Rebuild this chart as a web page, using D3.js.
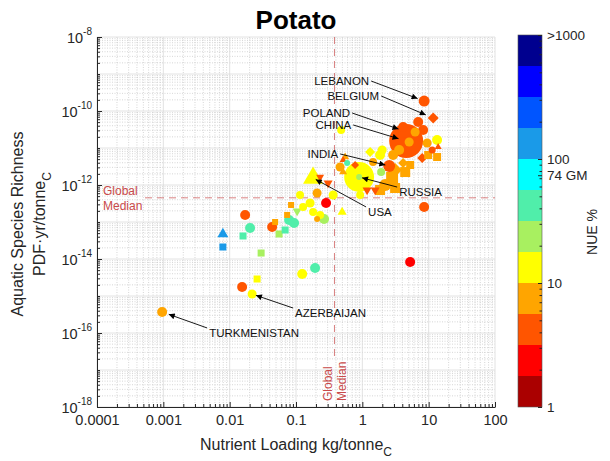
<!DOCTYPE html>
<html>
<head>
<meta charset="utf-8">
<script src="https://cdn.jsdelivr.net/npm/d3@7"></script>
<style>
  body { margin: 0; background: #fff; }
  text { font-family: "Liberation Sans", Arial, Helvetica, sans-serif; }
</style>
</head>
<body>
<svg id="chart" width="610" height="461"></svg>
<script>
// ---- Potato: nutrient loading vs. aquatic species richness loss, coloured by NUE ----

// Nutrient loading, kg / tonne C
const loading = [
  0.00096, 0.0218, 0.0154, 0.0259, 0.124, 0.194, 5.26, 0.0079, 0.0079, 0.0171,
  0.0203, 0.0159, 0.0298, 0.0437, 0.0484, 0.0556, 0.0686, 0.0787, 0.0935, 0.0735,
  0.0843, 0.104, 0.284, 0.265, 0.479, 8.55, 8.55, 11.7, 4.58, 4.27,
  2.54, 0.895, 0.895, 0.181, 6.95, 8.26, 4.12, 6.25, 9.49, 13.4,
  13.9, 5.08, 3.59, 7.98, 9.82, 13.4, 11.3, 4.12, 5.26, 2.91,
  1.31, 1.85, 1.45, 1.99, 3.12, 4.43, 2.81, 2.21, 1.85, 3.12,
  0.462, 0.590, 0.513, 1.92, 0.513, 1.18, 1.56, 0.926, 0.231, 0.305,
  0.208, 0.163, 0.181, 0.231, 0.496, 0.128, 0.208, 0.551, 0.778, 0.363,
  0.115
];

// Aquatic species richness, PDF·yr / tonne C
const richness = [
  3.7e-16, 1.13e-15, 1.75e-15, 2.88e-15, 3.93e-15, 5.71e-15, 8.3e-15, 4.74e-14, 2.11e-14, 1.55e-13,
  6.89e-14, 4.19e-14, 1.45e-14, 7.33e-14, 1.0e-13, 4.74e-14, 6.08e-14, 1.13e-13, 9.4e-14, 1.55e-13,
  2.88e-13, 1.98e-13, 3.27e-13, 1.21e-13, 3.06e-11, 2.54e-13, 1.86e-10, 6.47e-11, 1.55e-11, 2.88e-11,
  3.27e-12, 1.64e-12, 1.64e-12, 1.55e-12, 5.04e-11, 3.06e-11, 3.70e-11, 2.71e-11, 1.36e-11, 1.64e-11,
  1.06e-11, 1.45e-11, 8.83e-12, 5.37e-12, 6.47e-12, 5.71e-12, 8.83e-12, 3.93e-12, 3.47e-12, 6.47e-12,
  7.80e-12, 6.47e-12, 4.19e-12, 8.83e-12, 2.54e-12, 2.24e-12, 1.55e-12, 1.0e-12, 7.33e-13, 8.3e-13,
  3.07e-12, 3.93e-12, 4.74e-12, 2.24e-12, 2.24e-12, 7.33e-13, 7.33e-13, 5.37e-13, 1.64e-12, 1.13e-12,
  6.08e-13, 3.27e-13, 1.86e-13, 1.55e-13, 1.86e-13, 2.54e-13, 1.21e-13, 5.71e-12, 3.47e-12, 5.37e-13,
  5.37e-13
];

// Nitrogen use efficiency, %
const nue = [
  7.5, 13, 4.2, 13, 13, 42, 2.4, 133, 133, 4.2,
  42, 42, 24, 4.2, 7.5, 24, 42, 42, 42, 7.5,
  7.5, 24, 2.4, 24, 13, 4.2, 4.2, 4.2, 4.2, 4.2,
  4.2, 13, 24, 13, 4.2, 4.2, 4.2, 7.5, 7.5, 13,
  4.2, 7.5, 7.5, 4.2, 7.5, 7.5, 4.2, 7.5, 7.5, 7.5,
  13, 13, 7.5, 13, 7.5, 7.5, 7.5, 7.5, 7.5, 7.5,
  7.5, 42, 4.2, 24, 7.5, 4.2, 4.2, 13, 4.2, 4.2,
  7.5, 13, 13, 13, 13, 13, 7.5, 7.5, 4.2, 13,
  13
];

// Production system marker: c circle, s square, t triangle, v inverted triangle, d diamond
const marker = [
  "c","c","c","s","c","c","c","t","s","c",
  "c","s","s","c","s","s","s","c","c","s",
  "s","v","c","c","c","c","c","d","c","c",
  "c","c","c","t","c","c","c","c","c","c",
  "t","c","c","d","s","s","c","d","s","c",
  "d","c","c","c","d","s","s","c","s","s",
  "c","c","t","c","t","v","v","c","v","v",
  "c","c","c","c","t","c","c","t","d","c",
  "c"
];

// Production, Mt (sets marker size)
const production = [
  7.7, 6.3, 7.7, 3.8, 7.7, 7.7, 7.7, 9.3, 3.8, 7.7,
  7.7, 3.8, 3.8, 7.7, 2.8, 3.8, 3.8, 7.7, 7.7, 2.8,
  2.8, 6.3, 7.7, 7.7, 4.9, 7.7, 9.3, 9.3, 89, 15,
  11, 69, 2.8, 31, 7.7, 7.7, 7.7, 6.3, 6.3, 7.7,
  3.8, 6.3, 7.7, 7.7, 4.9, 4.9, 3.8, 7.7, 4.9, 7.7,
  7.7, 7.7, 4.9, 6.3, 15, 7.7, 11, 11, 7.7, 7.7,
  6.3, 2.8, 3.8, 4.9, 4.9, 6.3, 6.3, 4.9, 4.9, 6.3,
  6.3, 6.3, 4.9, 4.9, 6.3, 4.9, 2.8, 4.9, 4.9, 6.3,
  4.9
];

// Country names for the labelled points
const country = [];
country[0] = "TURKMENISTAN"; country[1] = "AZERBAIJAN"; country[26] = "LEBANON";
country[27] = "BELGIUM"; country[28] = "CHINA"; country[29] = "POLAND";
country[30] = "INDIA"; country[31] = "RUSSIA"; country[33] = "USA";

const xTickValues = [1e-4, 1e-3, 1e-2, 1e-1, 1, 10, 100];
const xTickLabels = ["0.0001", "0.001", "0.01", "0.1", "1", "10", "100"];
const yTickValues = [1e-8, 1e-10, 1e-12, 1e-14, 1e-16, 1e-18];
const yTickExponents = ["-8", "-10", "-12", "-14", "-16", "-18"];

const medianLoading = 0.38;
const medianRichness = 4.5e-13;

// NUE colour bands, lowest to highest (4 bands per decade, 1 – 1000 %)
const nueBandColors = [
  "#aa0000", "#ff0000", "#ff5500", "#ffa500", "#ffff00", "#a8f060",
  "#50eeaa", "#00ffff", "#1a9ae8", "#0055ff", "#0000ff", "#00008f"
];
const nueTickValues = [1, 10, 74, 100, 1000];
const nueTickLabels = ["1", "10", "74 GM", "100", ">1000"];

// Callout label placement relative to its point (pixels)
const callouts = [
  { name: "LEBANON",      dx: -55, dy: -16, anchor: "end",   gap: 7 },
  { name: "BELGIUM",      dx: -54, dy: -18, anchor: "end",   gap: 8 },
  { name: "POLAND",       dx: -54, dy: -14, anchor: "end",   gap: 6 },
  { name: "CHINA",        dx: -55, dy: -12, anchor: "end",   gap: 8 },
  { name: "INDIA",        dx: -51, dy: -8,  anchor: "end",   gap: 4 },
  { name: "RUSSIA",       dx: 40,  dy: 19,  anchor: "start", gap: 3 },
  { name: "USA",          dx: 55,  dy: 38,  anchor: "start", gap: 3 },
  { name: "AZERBAIJAN",   dx: 43,  dy: 23,  anchor: "start", gap: 4 },
  { name: "TURKMENISTAN", dx: 47,  dy: 25,  anchor: "start", gap: 7 }
];

// ---------------------------------------------------------------
const svg = d3.select("#chart");
const L = 97, R = 495, T = 37, B = 407;
const axisColor = "#262626";

const x = d3.scaleLog().domain([1e-4, 100]).range([L, R]);
const y = d3.scaleLog().domain([1e-18, 1e-8]).range([B, T]);
const size = d3.scaleSqrt().domain([0, 100]).range([0, 36]);
const nueEdges = d3.range(1, 12).map(k => Math.pow(10, k / 4));
const color = d3.scaleThreshold().domain(nueEdges).range(nueBandColors);

// minor tick positions (2..9 within each decade)
function minorTicks(lo, hi) {
  const out = [];
  for (let e = lo; e < hi; e++) for (let m = 2; m <= 9; m++) out.push(m * Math.pow(10, e));
  return out;
}
const xMinor = minorTicks(-4, 2);
const yMinor = minorTicks(-18, -8);
const xMajor = d3.range(-4, 3).map(e => Math.pow(10, e));
const yMajor = d3.range(-18, -7).map(e => Math.pow(10, e));

// grid
const grid = svg.append("g");
grid.selectAll(".gxm").data(xMinor).join("line")
  .attr("x1", d => x(d)).attr("x2", d => x(d)).attr("y1", T).attr("y2", B)
  .attr("stroke", "#c4c4c4").attr("stroke-width", 0.7).attr("stroke-dasharray", "1,1.5");
grid.selectAll(".gym").data(yMinor).join("line")
  .attr("y1", d => y(d)).attr("y2", d => y(d)).attr("x1", L).attr("x2", R)
  .attr("stroke", "#c4c4c4").attr("stroke-width", 0.7).attr("stroke-dasharray", "1,1.5");
grid.selectAll(".gxM").data(xMajor).join("line")
  .attr("x1", d => x(d)).attr("x2", d => x(d)).attr("y1", T).attr("y2", B)
  .attr("stroke", "#dadada").attr("stroke-width", 0.8);
grid.selectAll(".gyM").data(yMajor).join("line")
  .attr("y1", d => y(d)).attr("y2", d => y(d)).attr("x1", L).attr("x2", R)
  .attr("stroke", "#dadada").attr("stroke-width", 0.8);

// global median guides
const medColor = "#c94a4a";
const xm = x(medianLoading), ym = y(medianRichness);
svg.append("line").attr("x1", 145).attr("x2", R).attr("y1", ym).attr("y2", ym)
  .attr("stroke", medColor).attr("stroke-opacity", 0.7).attr("stroke-width", 1).attr("stroke-dasharray", "7,5");
svg.append("line").attr("x1", xm).attr("x2", xm).attr("y1", T).attr("y2", 358)
  .attr("stroke", medColor).attr("stroke-opacity", 0.7).attr("stroke-width", 1).attr("stroke-dasharray", "7,5");
svg.append("text").attr("x", 103).attr("y", 195).attr("font-size", 12).attr("fill", medColor).text("Global");
svg.append("text").attr("x", 103).attr("y", 210).attr("font-size", 12).attr("fill", medColor).text("Median");
svg.append("text").attr("transform", `translate(${xm - 2},401) rotate(-90)`)
  .attr("font-size", 12).attr("fill", medColor).text("Global");
svg.append("text").attr("transform", `translate(${xm + 12},401) rotate(-90)`)
  .attr("font-size", 12).attr("fill", medColor).text("Median");

// points
const points = loading.map((v, i) => ({
  x: v, y: richness[i], nue: nue[i], shape: marker[i], p: production[i], name: country[i] || ""
}));

function markerPath(shape, d) {
  if (shape === "c") return d3.symbol(d3.symbolCircle, Math.PI * d * d / 4)();
  if (shape === "s") return d3.symbol(d3.symbolSquare, d * d)();
  if (shape === "t" || shape === "v") return d3.symbol(d3.symbolTriangle, 0.433 * d * d)();
  return d3.symbol(d3.symbolSquare, d * d / 2)();
}
const rot = { c: 0, s: 0, t: 0, v: 180, d: 45 };

svg.append("g").selectAll("path")
  .data(points.slice().sort((a, b) => b.p - a.p))
  .join("path")
  .attr("d", d => markerPath(d.shape, size(d.p)))
  .attr("transform", d => `translate(${x(d.x)},${y(d.y)}) rotate(${rot[d.shape]})`)
  .attr("fill", d => color(d.nue));

// callouts
svg.append("defs").append("marker")
  .attr("id", "arrowhead").attr("viewBox", "0 0 10 10").attr("refX", 10).attr("refY", 5)
  .attr("markerWidth", 9).attr("markerHeight", 6).attr("markerUnits", "userSpaceOnUse")
  .attr("orient", "auto")
  .append("path").attr("d", "M0,0L10,5L0,10z").attr("fill", "#000");

const cg = svg.append("g");
callouts.forEach(c => {
  const pt = points.find(p => p.name === c.name);
  const px = x(pt.x), py = y(pt.y);
  const tx = px + c.dx, ty = py + c.dy;
  cg.append("text").attr("x", tx).attr("y", ty).attr("text-anchor", c.anchor)
    .attr("font-size", 11.5).attr("fill", "#111").text(c.name);
  const sx = c.anchor === "end" ? tx + 2 : tx - 2;
  const sy = c.anchor === "end" ? ty - 4 : ty - 9;
  const len = Math.hypot(px - sx, py - sy);
  const ex = px - (px - sx) / len * c.gap, ey = py - (py - sy) / len * c.gap;
  cg.append("line").attr("x1", sx).attr("y1", sy).attr("x2", ex).attr("y2", ey)
    .attr("stroke", "#000").attr("stroke-width", 0.9).attr("marker-end", "url(#arrowhead)");
});

// axes
const fontTick = 14.5;
const xAxis = svg.append("g").attr("transform", `translate(0,${B})`)
  .call(d3.axisBottom(x).tickValues(xTickValues).tickSize(-5).tickSizeOuter(0).tickPadding(8)
    .tickFormat((d, i) => xTickLabels[i]));
svg.append("g").attr("transform", `translate(0,${B})`)
  .call(d3.axisBottom(x).tickValues(xMinor).tickSize(-3).tickSizeOuter(0).tickFormat(""))
  .call(g => g.select(".domain").remove());

const yAxis = svg.append("g").attr("transform", `translate(${L},0)`)
  .call(d3.axisLeft(y).tickValues(yTickValues).tickSize(-5).tickSizeOuter(0).tickPadding(5)
    .tickFormat(""));
yAxis.selectAll(".tick text").each(function (d, i) {
  const t = d3.select(this);
  t.attr("dy", "0.55em");
  t.append("tspan").attr("font-size", fontTick).text("10");
  t.append("tspan").attr("font-size", 10).attr("dy", "-0.8em").text(yTickExponents[i]);
});
svg.append("g").attr("transform", `translate(${L},0)`)
  .call(d3.axisLeft(y).tickValues(yMajor.concat(yMinor)).tickSize(-3).tickSizeOuter(0).tickFormat(""))
  .call(g => g.select(".domain").remove());

svg.selectAll(".tick line").attr("stroke", axisColor);
svg.selectAll(".domain").attr("stroke", axisColor);
xAxis.selectAll(".tick text").attr("font-size", fontTick).attr("fill", axisColor)
  .attr("font-family", "Liberation Sans, Arial, sans-serif");
yAxis.selectAll(".tick text").attr("fill", axisColor).attr("font-family", "Liberation Sans, Arial, sans-serif");

// title and axis labels
svg.append("text").attr("x", (L + R) / 2).attr("y", 29).attr("text-anchor", "middle")
  .attr("font-size", 26).attr("font-weight", "bold").attr("fill", "#000").text("Potato");

const xl = svg.append("text").attr("x", (L + R) / 2).attr("y", 450).attr("text-anchor", "middle")
  .attr("font-size", 16).attr("fill", axisColor);
xl.append("tspan").text("Nutrient Loading kg/tonne");
xl.append("tspan").attr("font-size", 12).attr("dy", 6).text("C");

const ylab = svg.append("g").attr("transform", "translate(0,224) rotate(-90)");
ylab.append("text").attr("x", 0).attr("y", 23).attr("text-anchor", "middle")
  .attr("font-size", 16).attr("fill", axisColor).text("Aquatic Species Richness");
const yl2 = ylab.append("text").attr("x", 0).attr("y", 45).attr("text-anchor", "middle")
  .attr("font-size", 16).attr("fill", axisColor);
yl2.append("tspan").text("PDF·yr/tonne");
yl2.append("tspan").attr("font-size", 12).attr("dy", 6).text("C");

// colour bar
const CB_L = 518, CB_R = 542, CB_T = 35, CB_B = 407;
const cScale = d3.scaleLog().domain([1, 1000]).range([CB_B, CB_T]);
const bandEdges = [1].concat(nueEdges, [1000]);
svg.append("g").selectAll("rect")
  .data(nueBandColors)
  .join("rect")
  .attr("x", CB_L).attr("width", CB_R - CB_L)
  .attr("y", (d, i) => cScale(bandEdges[i + 1]))
  .attr("height", (d, i) => cScale(bandEdges[i]) - cScale(bandEdges[i + 1]))
  .attr("fill", d => d);
svg.append("rect").attr("x", CB_L).attr("y", CB_T).attr("width", CB_R - CB_L).attr("height", CB_B - CB_T)
  .attr("fill", "none").attr("stroke", "#555").attr("stroke-width", 0.6);

const cAxis = svg.append("g").attr("transform", `translate(${CB_R},0)`)
  .call(d3.axisRight(cScale).tickValues(nueTickValues).tickSize(-4).tickSizeOuter(0).tickPadding(5)
    .tickFormat((d, i) => nueTickLabels[i]));
cAxis.select(".domain").remove();
cAxis.selectAll(".tick line").attr("stroke", axisColor);
cAxis.selectAll(".tick text").attr("font-size", 13.5).attr("fill", axisColor)
  .attr("font-family", "Liberation Sans, Arial, sans-serif");
svg.append("g").attr("transform", `translate(${CB_R},0)`)
  .call(d3.axisRight(cScale).tickValues(minorTicks(0, 3)).tickSize(-2.5).tickSizeOuter(0).tickFormat(""))
  .call(g => g.select(".domain").remove())
  .selectAll(".tick line").attr("stroke", axisColor);

svg.append("text").attr("transform", "translate(597,232) rotate(-90)").attr("text-anchor", "middle")
  .attr("font-size", 14).attr("fill", axisColor).text("NUE %");
</script>
</body>
</html>
